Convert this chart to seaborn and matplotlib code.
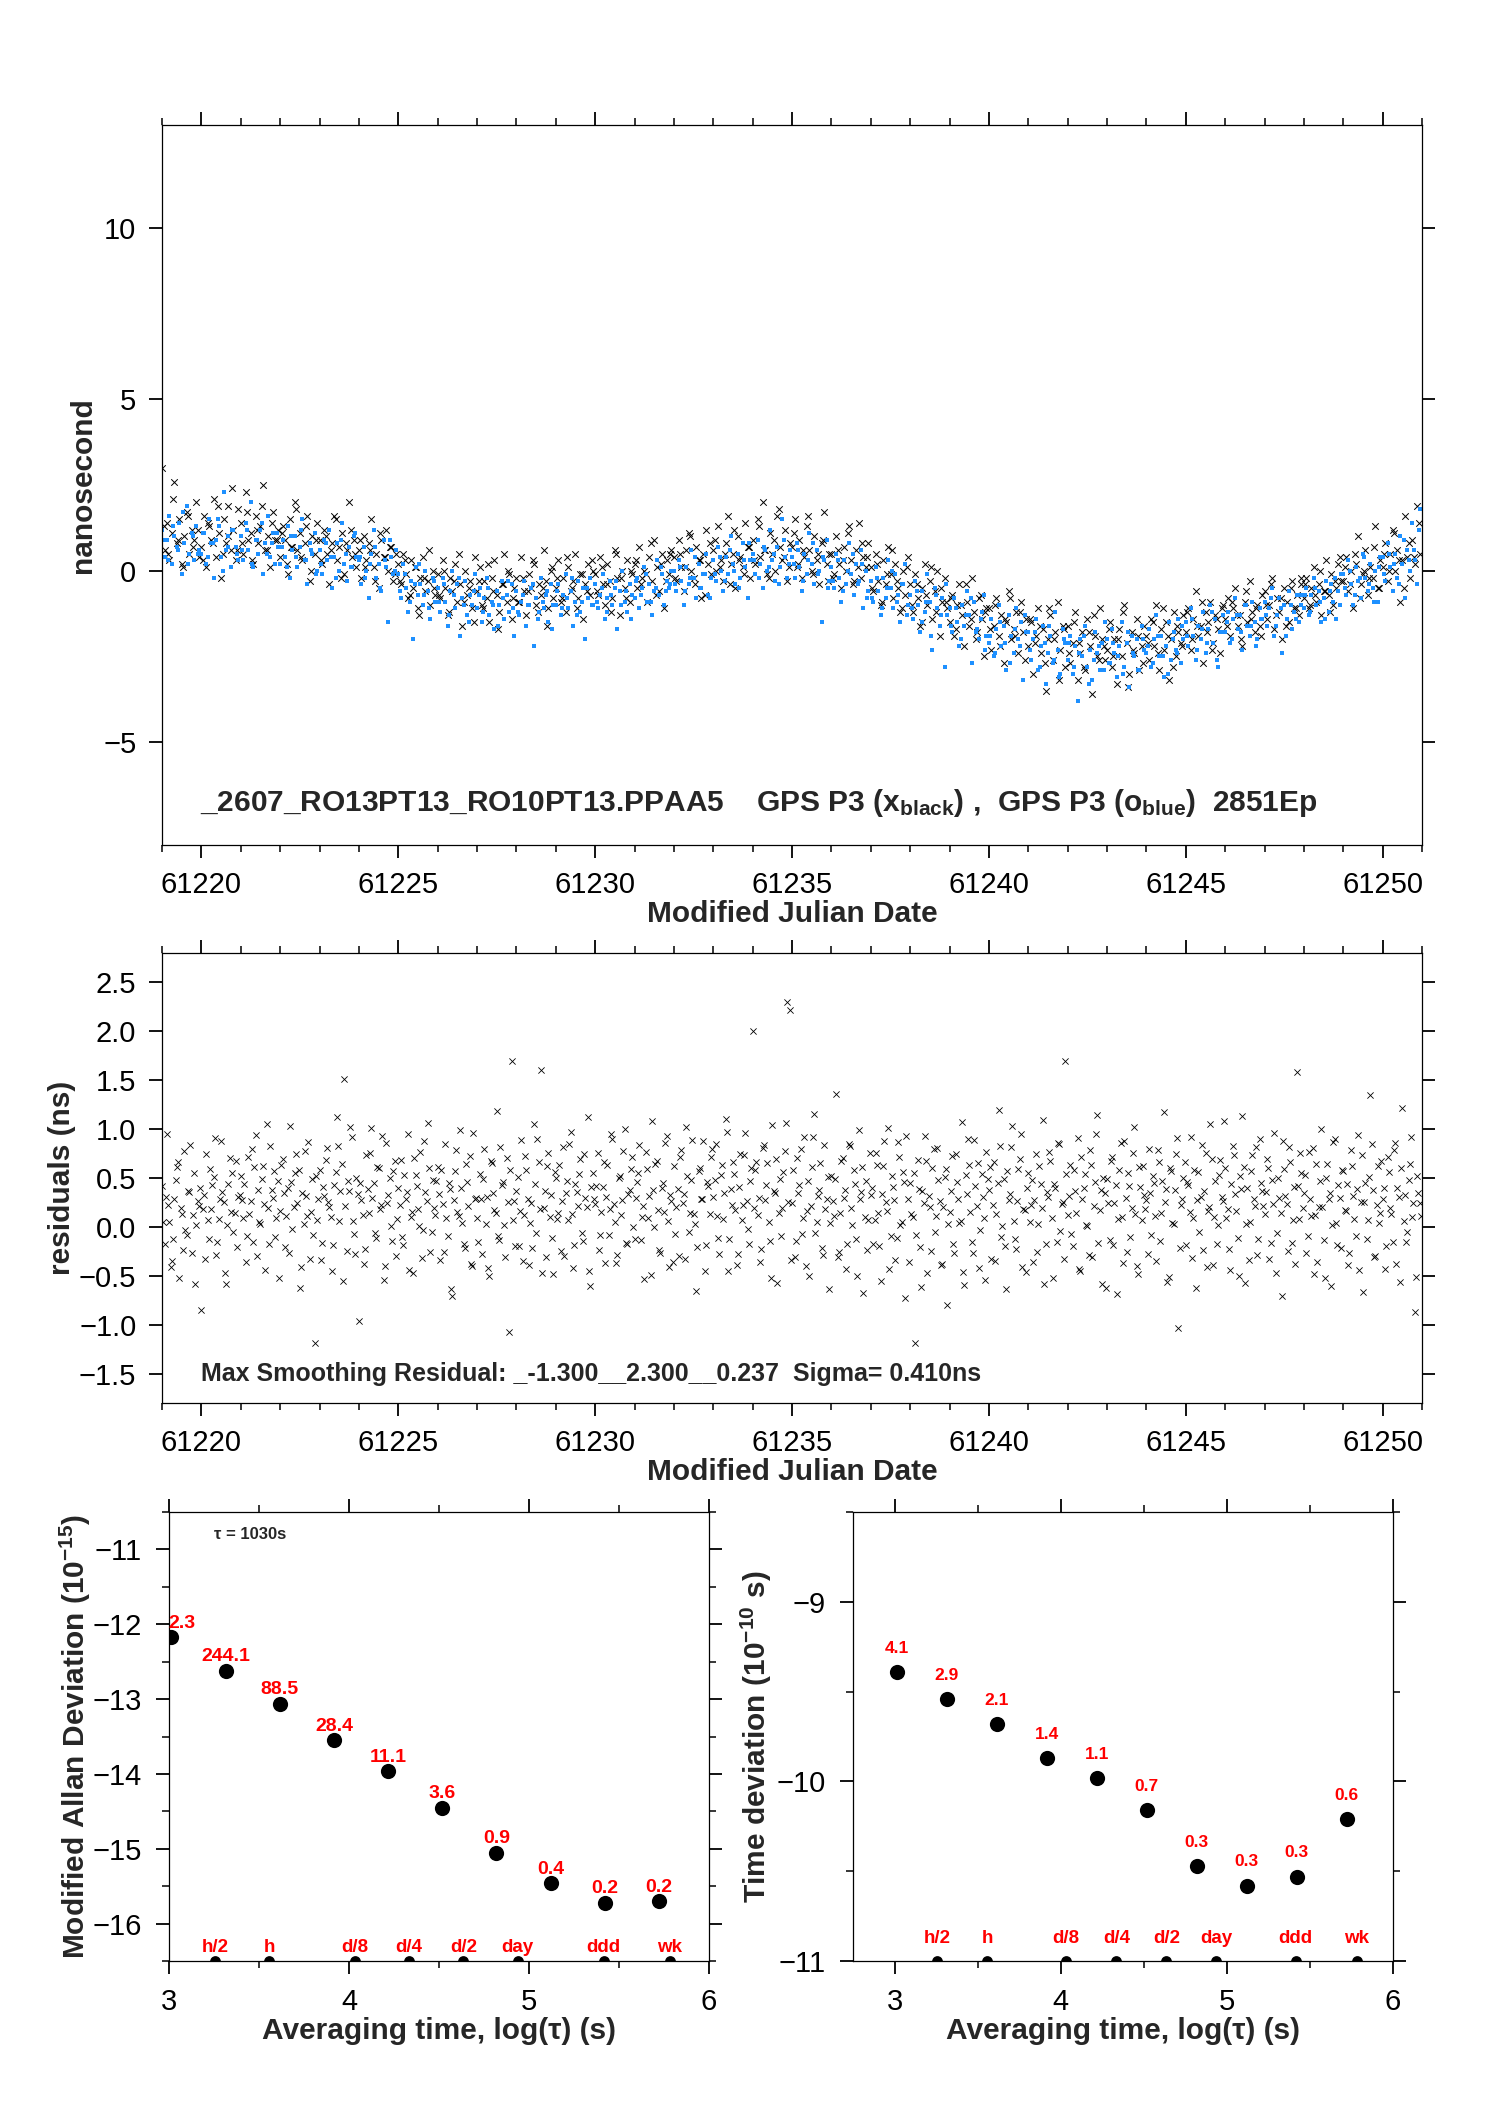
import numpy as np
import pandas as pd
import matplotlib
matplotlib.use("Agg")
import matplotlib.pyplot as plt
import seaborn as sns
from matplotlib.ticker import MultipleLocator, NullLocator, FormatStrFormatter

# ------------------------------------------------------------
# data
# ------------------------------------------------------------
MJD_START = 61219.0
EPOCHS_PER_DAY = 16          # main (thinned) epoch grid, one row per day below
EXTRA_PER_DAY = 8            # second, coarser grid for the top panel

# GPS P3 time offsets, black crosses (ns)
GPS_BLACK = [
    3.0, 0.6, 1.4, 0.3, 1.1, 2.6, 0.8, 1.5, 0.2, 1.0, 1.7, 0.5, 1.2, 0.9, 2.0, 0.4,
    0.7, 1.6, 0.1, 1.3, 0.9, 2.1, 0.4, 1.1, -0.2, 1.5, 0.8, 1.9, 0.6, 1.2, 0.3, 1.8,
    1.4, 0.5, 2.3, 0.9, 1.1, 0.2, 1.6, 0.8, 1.3, 2.5, 0.6, 1.0, 0.1, 1.7, 0.9, 1.2,
    0.4, 1.3, 0.9, -0.1, 1.5, 0.7, 2.0, 0.6, 1.1, 0.3, 0.8, 1.6, -0.3, 1.0, 0.5, 1.4,
    0.9, 0.2, 1.2, 0.5, -0.4, 0.8, 1.6, 0.3, 0.7, 1.1, -0.1, 0.6, 2.0, 0.4, 0.9, 0.1,
    0.6, -0.2, 1.0, 0.3, 0.8, 1.5, 0.1, 0.5, -0.5, 0.9, 0.4, 1.2, 0.0, 0.7, -0.3, 0.5,
    0.2, -0.4, 0.5, -0.1, -0.8, 0.3, -0.5, 0.1, -1.1, -0.2, 0.4, -0.6, -0.3, -1.0, 0.0, -0.7,
    -0.1, -0.8, 0.3, -0.5, -1.3, -0.2, -0.6, 0.2, -0.9, -0.4, -1.6, 0.0, -0.7, -0.3, -1.1, 0.4,
    -0.6, 0.1, -1.0, -0.3, -0.8, -1.5, -0.2, 0.3, -0.7, -1.2, -0.4, 0.5, -0.9, -0.1, -1.4, -0.5,
    -0.2, -0.9, 0.4, -0.6, -1.3, -0.1, -0.5, 0.2, -1.0, -0.4, -0.7, 0.6, -0.3, -1.1, 0.0, -0.8,
    -0.5, 0.3, -0.9, -0.2, -1.2, 0.1, -0.6, -0.3, 0.5, -0.8, -0.1, -1.4, -0.4, 0.2, -0.7, 0.0,
    -0.1, -0.7, 0.4, -0.4, -1.0, 0.2, -0.3, -0.8, 0.6, -0.2, -1.3, 0.0, -0.5, 0.3, -0.9, -0.1,
    0.2, -0.5, 0.7, -0.2, 0.0, -0.9, 0.4, -0.3, 0.9, 0.1, -0.6, 0.5, -1.1, 0.3, -0.1, 0.6,
    0.4, -0.3, 0.9, 0.1, -0.6, 0.6, 1.1, 0.0, -0.2, 0.7, 0.3, -0.8, 0.5, 1.2, 0.2, -0.1,
    0.6, 0.0, 1.3, 0.3, -0.3, 0.8, 1.6, 0.2, 0.5, -0.5, 1.0, 0.4, 0.1, 1.4, 0.7, -0.2,
    0.9, 0.2, 1.5, 0.4, 2.0, 0.6, -0.1, 1.1, 0.5, 0.0, 1.6, 0.7, 0.3, 1.2, -0.3, 0.8,
    0.7, 1.5, 0.1, 0.9, -0.2, 0.4, 1.3, 0.6, 0.0, 1.0, 0.3, -0.4, 0.8, 1.7, 0.2, 0.5,
    0.5, -0.1, 1.0, 0.2, -0.5, 0.7, 0.0, 1.3, 0.3, -0.3, 0.6, 1.4, -0.2, 0.4, 0.1, 0.8,
    0.1, -0.6, 0.5, -0.3, -1.0, 0.3, -0.4, 0.7, -0.1, -0.8, 0.2, -0.5, -1.2, 0.0, -0.7, 0.4,
    -0.4, -1.2, -0.1, -0.8, -1.6, -0.5, 0.2, -1.0, -0.3, -1.4, -0.6, 0.0, -1.9, -0.9, -0.2, -1.1,
    -1.5, -0.7, -1.9, -1.0, -0.4, -1.3, -2.2, -0.9, -1.6, -0.2, -1.2, -1.8, -0.8, -1.4, -2.5, -1.1,
    -1.1, -2.3, -1.6, -0.8, -1.9, -1.3, -2.7, -1.5, -0.6, -2.0, -1.7, -1.2, -2.4, -0.9, -1.8, -1.4,
    -2.2, -1.5, -3.0, -1.9, -1.1, -2.4, -1.7, -3.5, -2.0, -1.3, -2.6, -1.8, -0.9, -2.3, -1.6, -2.8,
    -1.6, -2.7, -2.1, -1.2, -3.2, -2.4, -1.8, -2.9, -1.4, -2.2, -3.6, -1.9, -2.5, -1.1, -2.0, -2.6,
    -2.3, -1.5, -2.8, -2.0, -3.3, -1.7, -2.5, -1.0, -2.1, -3.0, -1.8, -2.4, -1.4, -2.9, -2.2, -1.6,
    -1.9, -2.6, -1.4, -2.2, -1.0, -2.9, -1.7, -2.3, -1.5, -3.2, -2.0, -1.2, -2.5, -1.8, -2.1, -1.3,
    -1.8, -1.1, -2.3, -1.4, -0.6, -1.9, -1.6, -2.7, -1.2, -1.5, -0.9, -2.1, -1.3, -1.7, -2.4, -1.0,
    -1.4, -0.8, -1.9, -1.1, -0.5, -1.6, -1.3, -2.2, -0.9, -1.5, -0.3, -1.2, -1.8, -1.0, -1.6, -0.7,
    -0.6, -1.4, -1.0, -0.2, -1.7, -0.8, -1.2, -2.0, -0.5, -0.9, -1.5, -0.3, -1.1, -0.7, -1.3, -0.4,
    -0.8, -0.2, -1.1, -0.5, 0.1, -0.9, -0.4, -1.3, -0.6, 0.3, -0.7, -0.1, -1.0, -0.5, 0.2, -0.3,
    -0.3, 0.4, -0.6, 0.0, -1.1, 0.2, 1.0, -0.4, -0.1, 0.6, -0.7, 0.1, -0.2, 1.3, -0.5, 0.3,
    0.1, 0.8, -0.3, 0.5, 1.2, 0.0, 0.6, -0.9, 0.3, 1.6, 0.4, -0.2, 0.9, 0.2, 1.9, 0.5,
]

# black crosses on the second grid (8 per day)
GPS_BLACK_B = [
    1.3, 0.5, 2.1, 0.9, 0.1, 1.6, 0.7, 1.2,
    0.3, 1.4, 0.8, 1.9, 0.5, 1.0, 2.4, 0.6,
    0.8, 1.7, 0.3, 1.2, 1.9, 0.6, 1.4, 0.9,
    1.1, 0.2, 0.7, 1.8, 0.4, 1.3, 0.0, 0.9,
    0.3, 1.0, 0.6, 1.5, -0.2, 0.8, 1.2, 0.5,
    0.9, 0.1, 0.6, -0.3, 1.1, 0.4, 0.7, -0.1,
    -0.3, 0.3, -0.7, 0.1, -1.3, -0.2, 0.6, -0.5,
    -0.7, 0.0, -1.2, -0.3, 0.5, -0.9, -0.5, -1.5,
    -0.3, -1.1, 0.2, -0.6, -1.7, -0.4, 0.0, -0.8,
    -0.9, -0.2, -0.6, 0.3, -1.2, -0.5, -1.6, 0.1,
    -0.2, -0.8, 0.4, -0.5, -1.1, -0.1, -0.6, 0.3,
    -0.6, 0.1, -0.4, -1.2, 0.5, -0.2, -0.8, 0.0,
    0.3, -0.4, -0.1, 0.8, -0.7, 0.2, -0.3, 0.5,
    -0.2, 0.5, 0.1, 1.0, -0.4, 0.3, -0.7, 0.8,
    0.9, 0.1, 0.5, -0.4, 1.2, 0.3, -0.1, 0.7,
    0.3, 1.3, 0.6, -0.2, 0.9, 1.8, 0.4, 0.1,
    1.1, 0.2, 0.6, 1.6, -0.1, 0.5, 0.9, -0.3,
    -0.2, 0.6, 0.3, 1.1, -0.4, 0.1, 0.8, 0.4,
    -0.5, 0.2, -0.9, -0.1, 0.6, -0.3, -1.1, 0.1,
    -1.0, -0.4, -1.5, -0.7, 0.1, -1.2, -0.5, -0.9,
    -0.8, -1.7, -1.0, -0.4, -1.4, -2.0, -0.7, -1.2,
    -1.7, -1.0, -2.2, -1.4, -0.8, -1.9, -1.2, -2.6,
    -1.4, -2.1, -1.6, -2.7, -1.1, -2.0, -3.2, -1.7,
    -2.4, -1.5, -2.1, -2.8, -1.8, -1.3, -2.6, -2.2,
    -1.7, -2.5, -2.0, -1.2, -3.4, -2.3, -1.9, -2.7,
    -2.1, -1.5, -2.4, -1.1, -1.9, -2.8, -1.6, -2.2,
    -1.2, -2.0, -1.6, -0.9, -1.8, -2.3, -1.4, -1.1,
    -1.6, -0.9, -1.3, -2.0, -0.6, -1.4, -1.1, -1.9,
    -1.0, -0.4, -1.3, -0.8, -1.6, -0.5, -1.1, -0.2,
    -0.4, -1.0, -0.7, 0.0, -0.6, -1.2, -0.3, 0.4,
    0.1, -0.4, 0.5, -0.8, 0.0, -0.2, 0.7, -0.5,
    0.5, 0.0, 1.1, 0.3, -0.5, 0.8, 0.4, 1.4,
]

# GPS P3 time offsets, blue dots (ns)
GPS_BLUE = [
    1.2, 0.4, 0.9, 1.6, 0.2, 1.0, 0.7, 1.4, -0.1, 0.8, 1.9, 0.5, 1.1, 0.3, 1.3, 0.6,
    0.5, 1.1, 0.2, 1.5, 0.8, -0.2, 0.9, 1.3, 0.4, 2.3, 0.6, 1.0, 0.1, 1.2, 0.7, 0.3,
    1.0, 0.3, 1.4, 0.6, 2.0, 0.1, 0.9, 0.5, 1.2, -0.1, 0.8, 1.6, 0.4, 1.1, 0.2, 0.7,
    0.2, 0.9, 0.4, 1.3, -0.2, 0.6, 1.0, 0.1, 0.7, 1.5, 0.3, -0.4, 0.8, 0.5, 1.1, 0.0,
    0.6, -0.1, 0.9, 0.3, 1.2, -0.5, 0.4, 0.8, 0.0, 1.4, 0.2, -0.3, 0.7, 0.1, 1.0, 0.4,
    0.3, -0.4, 0.7, 0.0, -0.8, 0.5, 1.2, -0.2, 0.2, -0.6, 0.9, 0.1, -1.5, 0.4, -0.1, 0.6,
    -0.1, -0.8, 0.2, -0.5, -1.2, -0.3, -2.0, 0.1, -0.7, -0.4, -1.0, 0.0, -0.6, -1.4, -0.2, -0.9,
    -0.5, -1.2, -0.2, -0.9, -1.6, -0.6, 0.0, -1.1, -0.4, -1.9, -0.8, -0.3, -1.3, -0.7, -1.0, -0.1,
    -1.1, -0.5, -1.5, -0.8, -0.2, -1.3, -0.9, -1.7, -0.6, -1.0, -0.3, -1.4, -0.7, -1.2, -0.4, -1.9,
    -0.6, -1.3, -0.9, -0.3, -1.6, -1.0, -0.5, -2.2, -0.8, -1.2, -0.2, -1.1, -0.7, -1.5, -0.4, -1.0,
    -1.0, -0.4, -1.3, -0.7, -0.1, -1.1, -0.6, -1.6, -0.9, -0.3, -1.2, -0.5, -2.0, -0.8, -0.2, -1.0,
    -0.4, -1.1, -0.7, -0.1, -1.4, -0.8, -0.3, -1.0, -0.5, -1.7, -0.6, 0.0, -0.9, -1.2, -0.4, -0.7,
    -0.8, -0.2, -1.1, -0.5, 0.1, -0.9, -0.4, -1.3, -0.6, 0.3, -0.7, -0.1, -1.0, -0.3, -0.5, 0.0,
    0.0, -0.6, 0.3, -0.3, -1.0, 0.1, -0.4, 0.6, -0.2, -0.8, 0.2, -0.5, -0.1, 0.5, -0.7, -0.2,
    0.3, -0.3, 0.7, 0.0, -0.6, 0.4, -0.1, 1.0, 0.2, -0.4, 0.5, -0.2, 0.8, 0.1, -0.8, 0.3,
    0.5, -0.1, 0.9, 0.2, -0.5, 0.6, 0.0, 1.2, 0.3, -0.3, 0.7, 0.1, 1.5, 0.4, -0.2, 0.6,
    0.4, -0.2, 0.8, 0.1, -0.6, 0.5, -0.1, 1.1, 0.2, -0.4, 0.6, 0.0, -1.5, 0.3, 0.9, -0.3,
    0.1, -0.5, 0.5, -0.2, -0.9, 0.3, -0.4, 0.8, -0.1, -0.7, 0.2, -0.3, 0.6, -1.1, 0.0, -0.6,
    -0.3, -0.9, 0.1, -0.6, -1.3, -0.2, -0.8, 0.3, -0.5, -1.1, -0.1, -0.7, -1.5, -0.4, 0.2, -1.0,
    -0.7, -1.4, -0.3, -1.0, -1.8, -0.6, -1.2, -0.1, -0.9, -2.3, -0.5, -1.1, -1.6, -0.8, -2.8, -1.3,
    -1.1, -1.8, -0.8, -1.5, -2.2, -1.0, -1.6, -0.6, -1.3, -2.7, -0.9, -1.7, -2.0, -1.2, -0.7, -1.9,
    -2.1, -1.4, -2.5, -1.7, -1.0, -2.2, -1.6, -2.9, -1.3, -1.9, -2.4, -1.1, -2.0, -1.5, -3.2, -1.8,
    -1.8, -2.6, -2.0, -1.4, -2.9, -2.2, -1.6, -3.3, -2.4, -1.9, -2.7, -1.2, -2.3, -3.0, -1.7, -2.1,
    -2.6, -1.9, -3.0, -2.2, -3.8, -2.0, -2.5, -1.6, -2.8, -2.3, -3.2, -1.8, -2.4, -2.9, -2.1, -1.5,
    -2.0, -2.7, -1.7, -2.4, -3.1, -2.2, -1.5, -2.8, -2.1, -3.4, -1.9, -2.5, -2.0, -2.9, -1.6, -2.3,
    -2.4, -1.7, -2.8, -2.0, -1.3, -2.5, -1.9, -3.1, -2.2, -1.5, -2.6, -1.8, -2.3, -1.4, -2.7, -2.0,
    -1.5, -2.2, -1.1, -1.9, -2.6, -1.6, -2.0, -1.2, -2.4, -1.7, -1.0, -2.1, -1.4, -2.8, -1.8, -1.3,
    -1.8, -1.2, -2.1, -1.4, -0.8, -1.7, -1.3, -2.3, -1.0, -1.6, -1.9, -0.9, -1.5, -2.0, -1.1, -1.4,
    -0.9, -1.6, -1.1, -0.5, -1.9, -1.3, -0.8, -2.4, -1.0, -1.4, -0.6, -1.7, -1.2, -0.7, -1.5, -1.0,
    -1.1, -0.5, -1.3, -0.7, -0.2, -1.0, -0.6, -1.5, -0.8, -0.3, -1.2, -0.4, -0.9, -1.4, -0.6, -0.1,
    -0.1, -0.7, 0.3, -0.4, -1.0, 0.1, -0.3, -0.8, 0.5, -0.2, -0.6, 0.2, -0.5, 0.0, -0.9, 0.4,
    0.4, -0.3, 0.8, 0.1, -0.6, 0.5, -0.2, 1.0, 0.2, -0.8, 0.6, 0.0, 1.4, 0.3, -0.4, 1.8,
]

# blue dots on the second grid (8 per day)
GPS_BLUE_B = [
    0.9, 0.3, 1.3, 0.6, 1.7, 0.2, 1.0, 0.5,
    1.1, 0.4, 0.8, 1.5, 0.0, 0.7, 1.2, 0.5,
    0.6, 1.2, 0.2, 0.9, 1.4, 0.5, 0.8, 1.1,
    0.7, 0.1, 1.0, 0.4, 1.2, 0.3, 0.6, -0.1,
    0.2, 0.8, 0.4, -0.2, 0.9, 0.5, 0.1, 1.1,
    0.4, -0.2, 0.2, 0.7, -0.5, 0.3, 0.9, 0.0,
    -0.6, -0.1, -0.9, -0.4, 0.2, -0.7, -1.1, -0.3,
    -0.9, -0.4, -1.3, -0.7, -0.2, -1.0, -1.5, -0.6,
    -0.7, -1.2, -0.5, -1.0, -1.6, -0.8, -0.3, -1.1,
    -1.2, -0.7, -1.0, -0.4, -1.4, -0.9, -0.6, -1.7,
    -0.6, -1.1, -0.8, -0.2, -1.3, -0.9, -0.5, -1.0,
    -0.9, -0.5, -1.2, -0.7, -0.3, -1.0, -0.6, -1.4,
    -0.3, -0.7, -0.1, -0.9, -0.5, 0.1, -0.6, -0.4,
    -0.4, 0.1, -0.6, -0.2, 0.4, -0.5, -0.1, -0.8,
    -0.1, 0.4, -0.3, 0.6, 0.0, -0.5, 0.3, 0.8,
    0.3, -0.2, 0.7, 0.1, 0.5, -0.4, 0.9, 0.2,
    0.2, 0.6, -0.3, 0.3, 0.8, -0.1, 0.4, -0.5,
    -0.3, 0.3, -0.6, 0.0, 0.5, -0.4, 0.2, -0.8,
    -0.8, -0.2, -1.1, -0.5, 0.0, -0.9, -0.4, -1.3,
    -1.1, -0.6, -1.5, -0.9, -1.9, -0.7, -1.3, -0.4,
    -1.6, -1.1, -2.0, -1.3, -0.8, -1.8, -1.4, -2.3,
    -1.9, -2.4, -1.5, -2.1, -2.7, -1.7, -2.2, -1.3,
    -2.3, -1.8, -2.8, -2.1, -1.6, -2.6, -3.1, -2.0,
    -2.1, -2.8, -2.4, -1.9, -3.3, -2.6, -2.2, -2.9,
    -2.7, -2.1, -2.5, -3.0, -1.8, -2.4, -2.9, -2.0,
    -2.2, -2.7, -1.9, -2.5, -3.0, -2.0, -2.4, -1.6,
    -1.9, -1.4, -2.3, -1.7, -2.1, -1.2, -2.6, -1.8,
    -1.5, -2.0, -1.3, -1.8, -1.0, -1.6, -2.2, -1.4,
    -1.3, -0.8, -1.6, -1.1, -1.9, -1.0, -1.4, -0.7,
    -0.7, -1.2, -0.5, -0.9, -1.4, -0.6, -0.2, -1.0,
    -0.5, 0.0, -0.7, -0.2, 0.4, -0.4, -0.9, 0.1,
    -0.1, 0.5, 0.2, -0.4, 0.9, 0.3, 0.6, 1.2,
]

# smoothing residuals of the black series (ns)
RESIDUALS = [
    0.42, -0.18, 0.95, 0.05, -0.35, 0.28, 0.61, -0.52, 0.13, 0.78, -0.08, 0.36, -0.27, 0.55, 0.02, 0.21,
    -0.85, 0.33, 0.74, -0.12, 0.18, 0.51, -0.29, 0.08, 0.88, 0.25, -0.58, 0.44, 0.15, -0.05, 0.67, 0.31,
    0.52, 0.09, -0.36, 0.71, 0.26, -0.15, 0.94, 0.38, 0.03, 0.62, -0.44, 0.19, 0.83, 0.30, -0.10, 0.47,
    0.16, 0.69, -0.21, 0.40, 1.03, -0.02, 0.55, 0.24, -0.62, 0.35, 0.78, 0.11, -0.33, 0.49, -1.19, 0.07,
    0.58, -0.16, 0.32, 0.81, 0.20, -0.45, 0.43, 1.12, 0.06, 0.64, 1.51, -0.25, 0.37, 0.92, -0.07, 0.50,
    -0.96, 0.27, -0.38, 0.73, 0.14, 1.01, 0.45, -0.11, 0.60, 0.22, -0.54, 0.86, 0.33, 0.01, 0.57, -0.30,
    0.40, 0.68, -0.19, 0.29, 0.95, 0.10, -0.47, 0.53, 0.18, 0.77, -0.03, 0.36, 1.06, -0.26, 0.48, 0.12,
    0.61, -0.34, 0.23, 0.85, -0.09, 0.39, -0.71, 0.57, 0.15, 0.99, 0.04, -0.22, 0.46, 0.72, -0.40, 0.28,
    0.09, 0.54, -0.28, 0.80, 0.31, -0.50, 0.65, 0.17, 1.18, -0.13, 0.43, 0.02, 0.70, -1.07, 1.70, 0.26,
    0.37, -0.20, 0.89, 0.12, 0.58, -0.39, 0.24, 1.05, -0.06, 0.66, 1.60, 0.19, -0.31, 0.75, 0.33, -0.48,
    0.50, 0.14, -0.25, 0.82, 0.35, 0.07, 0.97, -0.42, 0.44, 0.21, 0.69, -0.14, 0.30, 1.12, -0.60, 0.55,
    0.23, 0.76, -0.08, 0.41, -0.37, 0.63, 0.18, 0.90, 0.05, -0.29, 0.52, 0.27, 1.00, -0.17, 0.38, 0.71,
    -0.12, 0.46, 0.84, 0.10, -0.53, 0.59, 0.32, 1.08, 0.00, 0.67, -0.24, 0.40, 0.15, 0.93, -0.41, 0.26,
    0.62, 0.20, -0.30, 0.79, 0.34, 1.02, -0.05, 0.48, 0.13, -0.66, 0.57, 0.29, 0.88, -0.19, 0.42, 0.71,
    0.31, 0.85, -0.11, 0.53, 0.08, 1.10, -0.45, 0.39, 0.66, 0.17, -0.28, 0.74, 0.22, 0.96, -0.02, 0.47,
    2.00, 0.58, 0.12, -0.36, 0.81, 0.27, 0.65, -0.14, 1.04, 0.35, -0.57, 0.49, 0.19, 0.78, 2.30, 2.22,
    0.24, -0.31, 0.70, 0.43, -0.07, 0.92, 0.16, -0.50, 0.61, 1.15, 0.05, 0.38, -0.22, 0.84, 0.28, -0.64,
    0.52, 0.11, 1.36, -0.26, 0.67, 0.30, -0.43, 0.85, 0.19, 0.58, -0.12, 0.99, 0.36, -0.68, 0.47, 0.07,
    0.33, -0.18, 0.76, 0.14, -0.55, 0.62, 0.25, 1.01, -0.09, 0.41, -0.34, 0.87, 0.02, 0.56, -0.73, 0.29,
    0.45, 0.10, -1.19, 0.68, -0.21, 0.37, 0.93, -0.47, 0.20, 0.60, -0.05, 0.81, 0.26, -0.38, 0.51, -0.80,
    0.15, 0.72, -0.27, 0.46, 0.04, 1.07, -0.59, 0.34, 0.63, -0.15, 0.89, 0.21, -0.42, 0.54, 0.09, 0.77,
    0.38, -0.33, 0.66, 0.13, 1.19, -0.10, 0.49, -0.64, 0.27, 0.82, 0.06, -0.23, 0.59, 0.95, 0.18, -0.46,
    0.55, 0.22, -0.36, 0.74, 0.03, 0.44, 1.09, -0.17, 0.31, 0.67, -0.52, 0.40, 0.86, -0.04, 0.25, 1.70,
    0.12, 0.63, -0.20, 0.37, 0.91, -0.45, 0.28, 0.54, 0.01, 0.79, -0.31, 0.46, 1.14, 0.17, -0.58, 0.35,
    0.49, -0.13, 0.71, 0.24, -0.69, 0.58, 0.10, 0.88, -0.26, 0.42, 0.19, 1.02, -0.40, 0.61, 0.07, 0.33,
    0.27, 0.80, -0.08, 0.45, -0.35, 0.66, 0.14, 1.17, 0.39, -0.51, 0.57, 0.03, 0.74, -1.03, 0.22, 0.50,
    -0.19, 0.43, 0.92, 0.09, -0.62, 0.56, 0.31, -0.24, 0.75, 0.16, 1.05, -0.39, 0.47, 0.02, 0.68, 0.26,
    0.60, 0.18, -0.44, 0.83, 0.34, -0.11, 0.52, 1.13, -0.57, 0.40, 0.05, 0.73, 0.21, -0.29, 0.90, 0.37,
    0.13, 0.69, -0.33, 0.48, 0.96, -0.06, 0.30, -0.71, 0.59, 0.23, 0.82, -0.16, 0.41, 1.58, 0.08, 0.55,
    0.35, -0.27, 0.77, 0.11, -0.48, 0.64, 0.20, 1.00, -0.13, 0.50, 0.29, -0.60, 0.87, 0.04, 0.43, -0.22,
    0.57, 0.16, -0.39, 0.79, 0.32, -0.09, 0.94, 0.25, -0.67, 0.45, 0.07, 1.35, 0.38, -0.30, 0.62, 0.14,
    0.28, -0.43, 0.71, 0.19, -0.15, 0.86, 0.40, -0.56, 1.22, 0.33, -0.05, 0.64, 0.10, -0.87, 0.52, 0.24,
]

# residuals at the epochs half-way between the main grid (ns)
RESIDUALS_B = [
    0.05, 0.31, 0.22, -0.41, -0.12, 0.48, 0.66, 0.19, -0.24, -0.03, 0.37, 0.84, 0.12, -0.58, 0.26, 0.40,
    0.18, -0.33, 0.07, 0.59, 0.43, 0.91, -0.15, 0.28, 0.36, -0.47, 0.02, 0.70, 0.55, 0.14, -0.21, 0.33,
    0.27, 0.44, -0.09, 0.13, 0.80, 0.61, -0.30, 0.05, 0.49, 0.23, 1.05, -0.18, 0.38, 0.57, 0.09, -0.52,
    0.63, 0.35, 0.11, -0.27, 0.46, 0.20, 0.74, 0.58, -0.41, 0.03, 0.32, 0.87, 0.15, -0.08, 0.52, 0.29,
    -0.34, 0.41, 0.68, 0.25, 0.10, -0.19, 0.56, 0.83, 0.37, -0.55, 0.21, 0.47, 1.02, 0.06, -0.28, 0.34,
    0.45, 0.12, -0.23, 0.39, 0.76, 0.30, -0.06, 0.61, 0.18, 0.93, -0.40, 0.24, 0.50, -0.14, 0.67, 0.08,
    0.22, -0.10, 0.53, 0.36, -0.44, 0.15, 0.70, 0.42, 0.01, -0.32, 0.88, 0.26, 0.60, -0.05, 0.19, 0.47,
    0.34, 0.58, -0.26, 0.09, 0.45, -0.63, 0.27, 0.79, 0.11, 0.40, -0.17, 0.64, 0.21, -0.38, 0.96, 0.30,
    -0.15, 0.28, 0.49, 0.03, -0.42, 0.67, 0.35, 0.14, -0.09, 0.82, 0.46, -0.31, 0.25, 0.58, 0.07, -0.20,
    0.51, 0.16, -0.35, 0.72, 0.29, 0.04, -0.22, 0.44, 0.90, 0.18, -0.47, 0.37, 0.62, 0.10, -0.11, 0.56,
    0.08, 0.63, 0.26, -0.30, 0.47, 0.85, 0.13, -0.19, 0.36, 0.54, -0.06, 0.74, 0.20, -0.45, 0.41, 0.29,
    0.42, -0.24, 0.15, 0.66, 0.31, -0.08, 0.95, 0.23, -0.37, 0.50, 0.12, 0.78, -0.16, 0.34, 0.59, 0.00,
    0.30, 0.55, -0.13, 0.21, 0.77, 0.09, -0.49, 0.38, 0.64, 0.17, -0.27, 0.45, 0.86, 0.06, 0.33, -0.36,
    -0.07, 0.39, 0.71, 0.24, -0.33, 0.52, 0.14, 0.89, 0.03, -0.21, 0.60, 0.28, -0.45, 0.46, 0.13, 0.80,
    0.48, 0.11, -0.28, 0.63, 0.35, 0.97, -0.12, 0.22, 0.54, -0.39, 0.41, 0.07, 0.73, 0.26, -0.18, 0.60,
    0.19, 0.66, 0.30, -0.23, 0.84, 0.43, 0.05, -0.52, 0.37, 0.69, 0.14, -0.09, 0.56, 1.06, 0.25, -0.34,
    0.58, -0.14, 0.35, 0.80, 0.09, -0.40, 0.47, 0.21, 0.92, -0.06, 0.32, 0.65, -0.29, 0.18, 0.51, 0.04,
    0.26, 0.49, -0.31, 0.14, 0.70, 0.38, -0.17, 0.83, 0.02, 0.44, -0.50, 0.29, 0.61, 0.10, -0.24, 0.75,
    0.40, 0.07, 0.63, -0.20, 0.34, 0.88, 0.16, -0.43, 0.52, 0.27, -0.11, 0.71, 0.05, 0.46, 0.93, -0.36,
    0.13, 0.55, -0.08, 0.39, -0.61, 0.24, 0.67, 0.32, -0.25, 0.80, 0.11, 0.48, -0.39, 0.20, 0.59, 0.03,
    0.37, -0.18, 0.74, 0.28, 0.06, -0.46, 0.53, 0.90, 0.15, -0.27, 0.42, 0.65, -0.03, 0.31, -0.54, 0.49,
    0.61, 0.22, -0.35, 0.45, 0.83, 0.01, -0.20, 0.57, 0.34, 1.03, -0.12, 0.26, 0.69, -0.41, 0.17, 0.40,
    0.05, 0.48, 0.27, -0.26, 0.62, 0.19, -0.58, 0.36, 0.77, 0.09, 0.44, -0.15, 0.85, 0.23, -0.33, 0.54,
    0.32, -0.07, 0.58, 0.14, -0.43, 0.71, 0.40, 0.02, -0.29, 0.63, 0.21, 0.95, -0.16, 0.38, 0.50, -0.62,
    0.24, 0.67, -0.19, 0.43, 0.08, 0.86, -0.37, 0.30, 0.55, -0.10, 0.76, 0.13, -0.48, 0.41, 0.62, 0.18,
    -0.28, 0.35, 0.52, 0.11, 0.79, -0.14, 0.47, 0.25, -0.56, 0.60, 0.04, 0.38, 0.91, -0.22, 0.29, 0.66,
    0.46, 0.15, -0.32, 0.58, 0.27, -0.05, 0.84, 0.37, -0.41, 0.20, 0.69, 0.10, -0.18, 0.53, 0.31, 1.08,
    0.09, -0.23, 0.44, 0.73, 0.16, -0.50, 0.39, 0.61, 0.03, -0.34, 0.57, 0.28, 0.82, -0.12, 0.45, 0.21,
    0.36, 0.60, -0.16, 0.23, -0.47, 0.50, 0.14, 0.88, 0.32, -0.25, 0.66, 0.07, -0.38, 0.42, 0.75, 0.19,
    0.53, -0.09, 0.28, 0.81, 0.12, -0.36, 0.47, 0.20, -0.52, 0.64, 0.35, 0.02, 0.90, -0.19, 0.30, 0.58,
    0.17, 0.44, -0.27, 0.62, 0.08, 0.39, -0.44, 0.73, 0.25, -0.12, 0.51, 0.85, -0.31, 0.22, 0.04, 0.67,
    0.40, -0.20, 0.56, 0.13, 0.79, -0.38, 0.31, 0.60, 0.06, -0.15, 0.48, 0.92, 0.24, -0.51, 0.35, 0.11,
]

# stability analysis, log10(tau) in seconds
TAU_LOG = [3.013, 3.314, 3.615, 3.916, 4.217, 4.518, 4.819, 5.120, 5.421, 5.722]
MDEV_LOG = [-12.17, -12.62, -13.06, -13.55, -13.96, -14.45, -15.05, -15.46, -15.72, -15.70]
MDEV_LABELS = ["2.3", "244.1", "88.5", "28.4", "11.1", "3.6", "0.9", "0.4", "0.2", "0.2"]
TDEV_LOG = [-9.39, -9.54, -9.68, -9.87, -9.98, -10.16, -10.47, -10.58, -10.53, -10.21]
TDEV_LABELS = ["4.1", "2.9", "2.1", "1.4", "1.1", "0.7", "0.3", "0.3", "0.3", "0.6"]

# reference averaging times (log10 s)
MARK_NAMES = ["h/2", "h", "d/8", "d/4", "d/2", "day", "ddd", "wk"]
MARK_LOG = [3.255, 3.556, 4.033, 4.334, 4.635, 4.936, 5.414, 5.782]

TITLE = ("_2607_RO13PT13_RO10PT13.PPAA5    GPS P3 (x$_{black}$) ,  "
         "GPS P3 (o$_{blue}$)  2851Ep")
RESID_TEXT = "Max Smoothing Residual: _-1.300__2.300__0.237  Sigma= 0.410ns"
TAU0_TEXT = "\u03c4 = 1030s"

# ------------------------------------------------------------
# style
# ------------------------------------------------------------
sns.set_theme(style="ticks")
plt.rcParams["font.family"] = ["Liberation Sans", "DejaVu Sans"]
plt.rcParams.update({
    "mathtext.fontset": "custom",
    "mathtext.rm": "Liberation Sans:bold",
    "mathtext.it": "Liberation Sans:bold",
    "mathtext.bf": "Liberation Sans:bold",
    "mathtext.default": "bf",
    "axes.edgecolor": "black",
    "axes.linewidth": 0.9,
    "xtick.color": "black",
    "ytick.color": "black",
    "axes.unicode_minus": True,
})

TICK_FS = 21
LABEL_FS = 21.5
BLUE = "#1e90ff"
RED = "#ff0000"


def frame(ax, xmaj, xmin, ymaj, ymin, pad=9):
    ax.xaxis.set_major_locator(MultipleLocator(xmaj))
    ax.xaxis.set_minor_locator(MultipleLocator(xmin) if xmin else NullLocator())
    ax.yaxis.set_major_locator(MultipleLocator(ymaj))
    ax.yaxis.set_minor_locator(MultipleLocator(ymin) if ymin else NullLocator())
    ax.tick_params(which="both", direction="out", top=True, right=True,
                   bottom=True, left=True, labeltop=False, labelright=False)
    ax.tick_params(which="major", length=9.5, width=1.3, labelsize=TICK_FS, pad=pad)
    ax.tick_params(which="minor", length=5, width=1.1)
    for sp in ax.spines.values():
        sp.set_visible(True)
        sp.set_color("black")


fig = plt.figure(figsize=(14.88, 21.05), dpi=100)
ax1 = fig.add_axes([0.1089, 0.5986, 0.8468, 0.3420])
ax2 = fig.add_axes([0.1089, 0.3335, 0.8468, 0.2138])
ax3 = fig.add_axes([0.1136, 0.0684, 0.3629, 0.2133])
ax4 = fig.add_axes([0.5733, 0.0684, 0.3629, 0.2133])

n_a = len(GPS_BLACK)
n_b = len(GPS_BLACK_B)
top = pd.concat([
    pd.DataFrame({"mjd": MJD_START + np.arange(n_a) / EPOCHS_PER_DAY,
                  "black": GPS_BLACK, "blue": GPS_BLUE}),
    pd.DataFrame({"mjd": MJD_START + (np.arange(n_b) + 0.3) / EXTRA_PER_DAY,
                  "black": GPS_BLACK_B, "blue": GPS_BLUE_B}),
], ignore_index=True)
res = pd.concat([
    pd.DataFrame({"mjd": MJD_START + np.arange(n_a) / EPOCHS_PER_DAY, "resid": RESIDUALS}),
    pd.DataFrame({"mjd": MJD_START + (np.arange(n_a) + 0.5) / EPOCHS_PER_DAY,
                  "resid": RESIDUALS_B}),
], ignore_index=True)

# ---- top: raw offsets ----
sns.scatterplot(data=top, x="mjd", y="black", ax=ax1, marker="x",
                color="black", s=22, linewidth=0.7, legend=False)
sns.scatterplot(data=top, x="mjd", y="blue", ax=ax1, marker="s",
                color=BLUE, s=7, linewidth=0, legend=False)
ax1.set_xlim(61219, 61251)
ax1.set_ylim(-8, 13)
frame(ax1, 5, 1, 5, None)
ax1.xaxis.set_major_formatter(FormatStrFormatter("%d"))
ax1.set_xlabel("Modified Julian Date", fontsize=LABEL_FS, fontweight="bold", labelpad=1)
ax1.set_ylabel("nanosecond", fontsize=LABEL_FS, fontweight="bold", labelpad=4.5)
ax1.text(61219.96, -6.78, TITLE, fontsize=21.5, fontweight="bold", va="center")

# ---- middle: residuals ----
sns.scatterplot(data=res, x="mjd", y="resid", ax=ax2, marker="x",
                color="black", s=20, linewidth=0.6, legend=False)
ax2.set_xlim(61219, 61251)
ax2.set_ylim(-1.8, 2.8)
frame(ax2, 5, 1, 0.5, None)
ax2.xaxis.set_major_formatter(FormatStrFormatter("%d"))
ax2.set_xlabel("Modified Julian Date", fontsize=LABEL_FS, fontweight="bold", labelpad=1)
ax2.set_ylabel("residuals (ns)", fontsize=LABEL_FS, fontweight="bold", labelpad=2.5)
ax2.text(61220.0, -1.5, RESID_TEXT, fontsize=18, fontweight="bold", va="center")

# ---- bottom: MDEV and TDEV ----
stab = pd.DataFrame({"tau": TAU_LOG, "mdev": MDEV_LOG, "tdev": TDEV_LOG})
marks = pd.DataFrame({"tau": MARK_LOG, "name": MARK_NAMES})


def stability(ax, col, labels, ylim, lab_fs, lab_off, mark_off):
    sns.scatterplot(data=stab, x="tau", y=col, ax=ax, color="black", s=120,
                    linewidth=0, legend=False)
    marks["y"] = ylim[0]
    sns.scatterplot(data=marks, x="tau", y="y", ax=ax, color="black", s=60,
                    linewidth=0, legend=False)
    for name, tx in zip(marks["name"], marks["tau"]):
        ax.annotate(name, (tx, ylim[0]), xytext=(0, mark_off), textcoords="offset points",
                    ha="center", va="center", color=RED, fontsize=13.5, fontweight="bold")
    for k, (tx, val, lab) in enumerate(zip(stab["tau"], stab[col], labels)):
        first_at_edge = (k == 0 and col == "mdev")
        ax.annotate(lab, (tx, val), xytext=(-2 if first_at_edge else 0, lab_off),
                    textcoords="offset points", ha="left" if first_at_edge else "center",
                    va="center", color=RED, fontsize=lab_fs, fontweight="bold")
    ax.set_ylim(*ylim)
    ax.xaxis.set_major_formatter(FormatStrFormatter("%d"))
    ax.set_xlabel("Averaging time, log(\u03c4) (s)", fontsize=LABEL_FS,
                  fontweight="bold", labelpad=1)


stability(ax3, "mdev", MDEV_LABELS, (-16.5, -10.5), 14, 10, 10)
ax3.set_xlim(3, 6)
frame(ax3, 1, 0.5, 1, 0.5, pad=10)
ax3.set_ylabel("Modified Allan Deviation (10$^{-15}$)", fontsize=LABEL_FS,
               fontweight="bold", labelpad=0)
ax3.text(3.25, -10.8, TAU0_TEXT, fontsize=12, fontweight="bold", va="center")

stability(ax4, "tdev", TDEV_LABELS, (-11, -8.5), 12.5, 17, 16)
ax4.set_xlim(2.75, 6)
frame(ax4, 1, 0.5, 1, 0.5, pad=10)
ax4.set_ylabel("Time deviation (10$^{-10}$ s)", fontsize=LABEL_FS,
               fontweight="bold", labelpad=2)

fig.savefig("out.png", dpi=100)
